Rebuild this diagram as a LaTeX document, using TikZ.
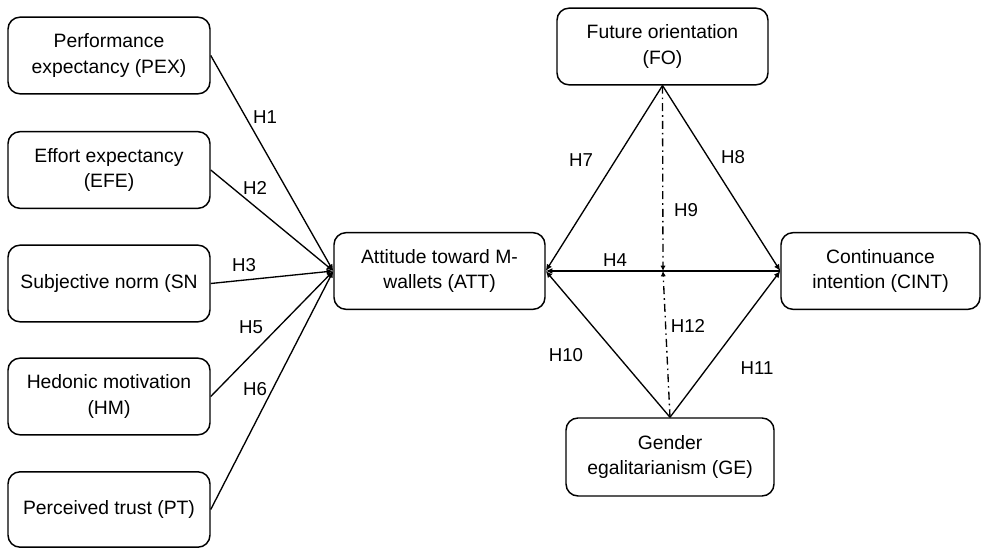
\documentclass[tikz,border=0pt]{standalone}
\usepackage{fontspec}
\setmainfont{Liberation Sans}
\usetikzlibrary{arrows.meta}
\begin{document}
\begin{tikzpicture}[x=0.75pt,y=-0.75pt,
  box/.style={draw, line width=1.1pt, rounded corners=9pt, align=center, inner sep=0pt,
    font=\fontsize{14.5}{19}\selectfont, minimum height=57.5pt},
  lbl/.style={inner sep=0pt, font=\fontsize{14}{16}\selectfont},
  arr/.style={line width=1pt, -{Latex[length=5pt,width=4.5pt]}},
  mod/.style={line width=1pt, dash pattern=on 6pt off 3pt on 1.2pt off 3pt, -{Latex[length=4pt,width=4pt]}}]
\useasboundingbox (0,0) rectangle (989,548);
% left boxes
\node[box, minimum width=151.5pt] (pex) at (109,55.5) {Performance\\expectancy (PEX)};
\node[box, minimum width=151.5pt] (efe) at (109,170) {Effort expectancy\\(EFE)};
\node[box, minimum width=151.5pt] (sn) at (109,283.5) {Subjective norm (SN};
\node[box, minimum width=151.5pt] (hm) at (109,396.5) {Hedonic motivation\\(HM)};
\node[box, minimum width=151.5pt, minimum height=56.5pt] (pt) at (109,509.5) {Perceived trust (PT)};
% center and right boxes
\node[box, minimum width=158.25pt] (att) at (439.5,271) {Attitude toward M-\\wallets (ATT)};
\node[box, minimum width=149.25pt] (cint) at (880.5,271) {Continuance\\intention (CINT)};
\node[box, minimum width=158.25pt] (fo) at (662.5,46.5) {Future orientation\\(FO)};
\node[box, minimum width=156pt, minimum height=58.5pt] (ge) at (670,457) {Gender\\egalitarianism (GE)};
% connectors
\draw[arr] (pex.east) -- (att.west);
\draw[arr] (efe.east) -- (att.west);
\draw[arr] (sn.east) -- (att.west);
\draw[arr] (hm.east) -- (att.west);
\draw[arr] (pt.east) -- (att.west);
\draw[arr] (cint.west) -- (att.east);
\draw[arr] (fo.south) -- (att.east);
\draw[arr] (fo.south) -- (cint.west);
\draw[arr] (ge.north) -- (att.east);
\draw[arr] (ge.north) -- (cint.west);
\coordinate (m) at (663,271);
\draw[mod] (fo.south) -- (m);
\draw[mod] (ge.north) -- (m);
% labels
\node[lbl] (h1) at (265,117) {H1};
\node[lbl] (h2) at (255,188) {H2};
\node[lbl] (h3) at (244,265) {H3};
\node[lbl] (h5) at (251,327) {H5};
\node[lbl] (h6) at (255,389) {H6};
\node[lbl] (h7) at (581,160) {H7};
\node[lbl] (h8) at (733,157) {H8};
\node[lbl] (h9) at (686,210) {H9};
\node[lbl] (h4) at (615,260) {H4};
\node[lbl] (h12) at (688,326) {H12};
\node[lbl] (h10) at (566,355) {H10};
\node[lbl] (h11) at (757,368) {H11};
\end{tikzpicture}
\end{document}
